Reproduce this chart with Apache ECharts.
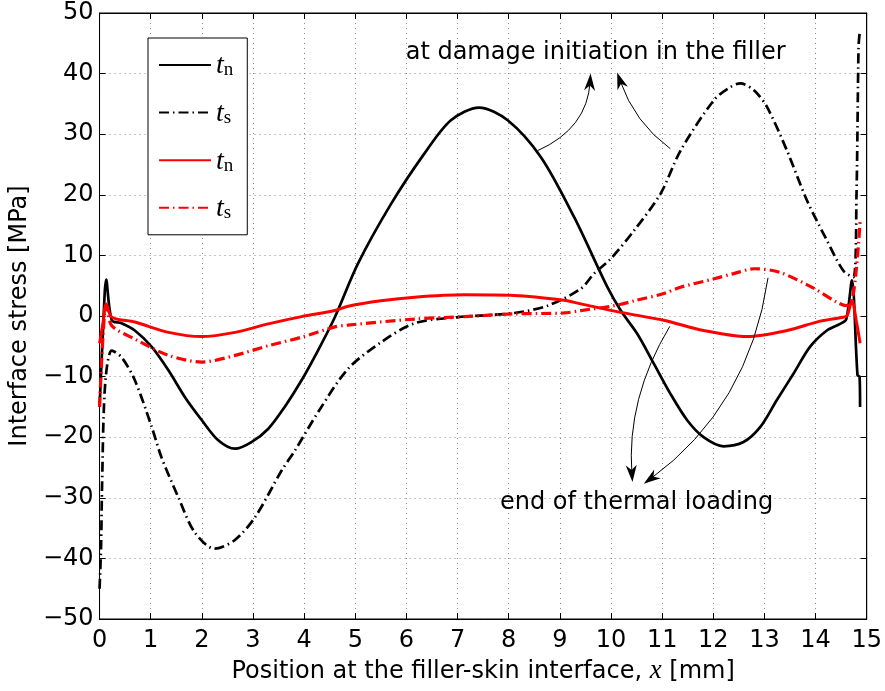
<!DOCTYPE html>
<html><head><meta charset="utf-8">
<script src="https://cdn.jsdelivr.net/npm/echarts@6/dist/echarts.min.js"></script>
<style>html,body{margin:0;padding:0;background:#fff}#c{width:885px;height:691px}</style>
</head><body><div id="c"></div>
<script>
// ---- data (x in mm, stress in MPa) ----
const tnInitX = [0, 0.07, 0.13, 0.24, 0.43, 0.69, 1.02, 1.35, 1.67, 2.0, 2.32, 2.65, 2.97, 3.3, 3.62, 3.95, 4.27, 4.6, 5.05, 5.7, 6.35, 6.87, 7.42, 7.98, 8.63, 9.28, 9.93, 10.19, 10.51, 10.84, 11.16, 11.49, 11.81, 12.2, 12.59, 12.92, 13.24, 13.57, 13.89, 14.22, 14.48, 14.6, 14.71, 14.82, 14.86, 14.87];
const tnInitY = [-15, -2, 6, -0.7, -1.2, -2.4, -5.1, -9.0, -13.4, -17.2, -20.5, -21.9, -20.8, -18.6, -15.0, -10.6, -5.7, -0.2, 8.6, 18.5, 26.8, 32.3, 34.4, 32.3, 26.2, 16.3, 4.75, 0.9, -2.9, -7.9, -12.8, -17.2, -20.0, -21.5, -20.8, -18.3, -13.9, -9.5, -5.1, -2.4, -1.3, -0.5, 5.9, -9.8, -10, -15];

const tsInitX = [0, 0.03, 0.05, 0.11, 0.24, 0.43, 0.69, 1.02, 1.21, 1.54, 1.86, 2.25, 2.64, 3.04, 3.56, 3.82, 4.3, 4.86, 5.51, 6.16, 7.0, 8.11, 8.76, 9.41, 9.67, 9.99, 10.45, 10.97, 11.36, 12.01, 12.3, 12.53, 12.8, 13.05, 13.44, 13.83, 14.22, 14.54, 14.74, 14.8, 14.84, 14.86];
const tsInitY = [-45, -38, -27.6, -11.2, -5.7, -6.8, -10.6, -18.3, -23.3, -29.9, -35.7, -38.4, -37, -33.2, -25.5, -22.2, -15.5, -8.7, -4.3, -1.2, -0.2, 0.5, 1.7, 4.5, 7.0, 9.4, 14.1, 20.2, 27.3, 35.6, 37.6, 38.4, 37.2, 34.5, 27.3, 19.1, 12.5, 7.5, 6.4, 20, 44.4, 46.6];

const tnEndX = [0, 0.07, 0.13, 0.24, 0.69, 1.35, 2.0, 2.65, 3.3, 3.95, 4.6, 4.86, 5.5, 6.16, 7.13, 8.11, 9.08, 9.41, 10.19, 11.03, 11.81, 12.66, 13.44, 14.09, 14.54, 14.62, 14.71, 14.8, 14.87];
const tnEndY = [-4.5, -1, 2.0, -0.2, -1.0, -2.7, -3.4, -2.7, -1.3, -0.1, 0.9, 1.6, 2.5, 3.1, 3.5, 3.4, 2.6, 2.0, 0.6, -0.7, -2.4, -3.4, -2.4, -0.85, -0.2, 0.1, 2.6, -1, -4.5];

const tsEndX = [0, 0.07, 0.13, 0.24, 0.69, 1.35, 2.0, 2.65, 3.3, 3.95, 4.6, 4.86, 6.16, 7.13, 8.11, 9.08, 9.41, 10.06, 10.5, 11.03, 11.36, 12.0, 12.4, 12.8, 13.3, 13.96, 14.41, 14.6, 14.71, 14.8, 14.87];
const tsEndY = [-15, -3, 1.7, -1.6, -3.8, -6.5, -7.6, -6.5, -4.9, -3.5, -1.8, -1.5, -0.5, -0.1, 0.35, 0.5, 0.9, 1.7, 2.6, 3.7, 4.75, 6.1, 7.0, 7.8, 7.2, 4.6, 2.3, 1.7, 2.6, 8, 15.5];

const seriesNames = ['tn_init', 'ts_init', 'tn_end', 'ts_end'];
const legendSub = {tn_init: 'n', ts_init: 's', tn_end: 'n', ts_end: 's'};

// annotation anchors in data coordinates
const annotTexts = [
  {text: 'at damage initiation in the filler', at: [9.70, 43.5]},
  {text: 'end of thermal loading', at: [10.50, -30.8]}
];
const annotArrows = [
  {from: [8.57, 27.3], ctrl: [9.54, 31.0], to: [9.60, 40.0]},
  {from: [11.16, 27.6], ctrl: [10.46, 31.9], to: [10.12, 40.2]},
  {from: [11.15, -1.7], ctrl: [10.30, -13.6], to: [10.42, -27.4]},
  {from: [13.07, 6.3], ctrl: [12.70, -15.0], to: [10.64, -27.7]}
];

const zip = (xs, ys) => xs.map((x, i) => [x, ys[i]]);
const FONT = '"DejaVu Sans", "Liberation Sans", Arial, sans-serif';
const minus = v => (v < 0 ? '\u2212' + Math.abs(v) : String(v));
const gridDots = {show: true, lineStyle: {color: '#8a8a8a', width: 1, type: [1, 4]}};
const frameLine = {show: true, onZero: false, lineStyle: {color: '#000', width: 1}};
const inTick = {show: true, inside: true, length: 6, lineStyle: {color: '#000'}};
const SMOOTH = 0.3;

const chart = echarts.init(document.getElementById('c'), null, {renderer: 'canvas'});
chart.setOption({
  animation: false,
  backgroundColor: '#fff',
  grid: {left: 98, right: 18, top: 13, bottom: 72, show: true, borderColor: '#000', borderWidth: 1, backgroundColor: 'transparent'},
  legend: {
    orient: 'vertical', left: 148, top: 38,
    padding: [14, 14, 12, 10], itemGap: 19.6, itemWidth: 52, itemHeight: 14,
    backgroundColor: '#fff', borderColor: '#000', borderWidth: 1,
    itemStyle: {opacity: 0},
    data: seriesNames,
    formatter: n => '{t|t}{s|' + legendSub[n] + '}',
    textStyle: {
      color: '#000',
      rich: {
        t: {fontFamily: '"Liberation Serif", serif', fontStyle: 'italic', fontSize: 28, lineHeight: 30, verticalAlign: 'bottom'},
        s: {fontFamily: '"Liberation Serif", serif', fontSize: 19, lineHeight: 30, verticalAlign: 'bottom', padding: [8, 0, 0, 0]}
      }
    }
  },
  xAxis: [{
    type: 'value', min: 0, max: 15, interval: 1, position: 'bottom',
    axisLine: frameLine, axisTick: inTick,
    axisLabel: {color: '#000', fontSize: 24, fontFamily: FONT, margin: 10, formatter: minus},
    splitLine: gridDots,
    name: 'Position at the filler-skin interface, {i|x} [mm]',
    nameLocation: 'middle', nameGap: 34,
    nameTextStyle: {color: '#000', fontSize: 24, fontFamily: FONT,
      rich: {i: {fontFamily: '"Liberation Serif", serif', fontStyle: 'italic', fontSize: 27}}}
  }, {
    type: 'value', min: 0, max: 15, interval: 1, position: 'top',
    axisLine: frameLine, axisTick: inTick,
    axisLabel: {show: false}, splitLine: {show: false}
  }],
  yAxis: [{
    type: 'value', min: -50, max: 50, interval: 10, position: 'left',
    axisLine: frameLine, axisTick: inTick,
    axisLabel: {color: '#000', fontSize: 24, fontFamily: FONT, margin: 6, formatter: minus},
    splitLine: gridDots,
    name: 'Interface stress [MPa]', nameLocation: 'middle', nameGap: 54,
    nameTextStyle: {color: '#000', fontSize: 24, fontFamily: FONT}
  }, {
    type: 'value', min: -50, max: 50, interval: 10, position: 'right',
    axisLine: frameLine, axisTick: inTick,
    axisLabel: {show: false}, splitLine: {show: false}
  }],
  series: [
    {name: 'tn_init', type: 'line', symbol: 'none', smooth: SMOOTH, data: zip(tnInitX, tnInitY),
      lineStyle: {color: '#000', width: 2.7}, itemStyle: {color: '#000'}},
    {name: 'ts_init', type: 'line', symbol: 'none', smooth: SMOOTH, data: zip(tsInitX, tsInitY),
      lineStyle: {color: '#000', width: 2.7, type: [10, 4, 1.5, 4]}, itemStyle: {color: '#000'}},
    {name: 'tn_end', type: 'line', symbol: 'none', smooth: SMOOTH, data: zip(tnEndX, tnEndY),
      lineStyle: {color: '#ff0000', width: 3}, itemStyle: {color: '#ff0000'}},
    {name: 'ts_end', type: 'line', symbol: 'none', smooth: SMOOTH, data: zip(tsEndX, tsEndY),
      lineStyle: {color: '#ff0000', width: 3.2, type: [10, 4, 1.5, 4]}, itemStyle: {color: '#ff0000'}}
  ]
});

// annotations placed through the chart's own coordinate conversion
const px = p => chart.convertToPixel({gridIndex: 0}, p);
const graphics = [];
annotTexts.forEach(a => {
  const p = px(a.at);
  graphics.push({type: 'text', x: p[0], y: p[1], z: 100,
    style: {text: a.text, font: '24px ' + FONT, fill: '#000', align: 'center', verticalAlign: 'middle', textAlign: 'center', textVerticalAlign: 'middle'}});
});
annotArrows.forEach(a => {
  const s = px(a.from), c = px(a.ctrl), e = px(a.to);
  let dx = e[0] - c[0], dy = e[1] - c[1];
  const len = Math.hypot(dx, dy); dx /= len; dy /= len;
  const nx = -dy, ny = dx, L = 17, W = 5.5, N = 5;
  graphics.push({type: 'bezierCurve', z: 100,
    shape: {x1: s[0], y1: s[1], x2: e[0] - dx * 8, y2: e[1] - dy * 8, cpx1: c[0], cpy1: c[1]},
    style: {stroke: '#000', lineWidth: 1, fill: null}});
  graphics.push({type: 'polygon', z: 101,
    shape: {points: [
      [e[0], e[1]],
      [e[0] - dx * L + nx * W, e[1] - dy * L + ny * W],
      [e[0] - dx * (L - N), e[1] - dy * (L - N)],
      [e[0] - dx * L - nx * W, e[1] - dy * L - ny * W]
    ]},
    style: {fill: '#000', stroke: null}});
});
chart.setOption({graphic: {elements: graphics}});
</script>
</body></html>
